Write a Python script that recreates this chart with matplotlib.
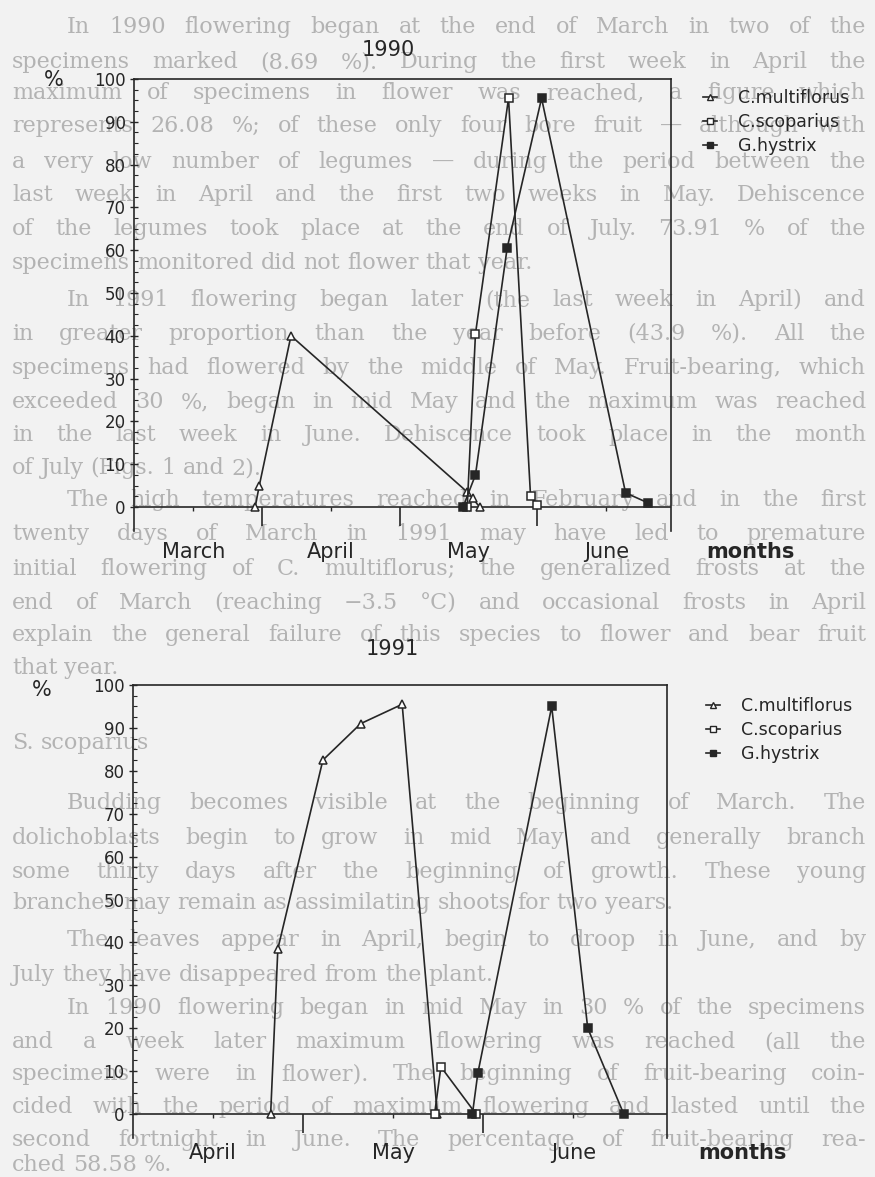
import numpy as np
import matplotlib
matplotlib.use('Agg')
import matplotlib.pyplot as plt
from matplotlib.lines import Line2D

W, H = 875, 1177
INK = '#262626'
PAPER = '#f2f2f2'
GHOST = '#b3b3b3'

# x positions are in months from the first day of the first month shown
months_1990 = ['March', 'April', 'May', 'June']
multi_x_1990 = [0.95, 0.98, 1.21, 2.49, 2.53, 2.58]
multi_y_1990 = [0, 5, 40, 3.5, 2, 0]
scop_x_1990 = [2.49, 2.55, 2.79, 2.95, 3.00]
scop_y_1990 = [0, 40.5, 95.5, 2.5, 0.5]
hyst_x_1990 = [2.46, 2.55, 2.78, 3.03, 3.64, 3.80]
hyst_y_1990 = [0, 7.5, 60.5, 95.5, 3.3, 1]

months_1991 = ['April', 'May', 'June']
multi_x_1991 = [0.82, 0.86, 1.11, 1.32, 1.55, 1.745]
multi_y_1991 = [0, 38.5, 82.5, 91, 95.5, 0]
scop_x_1991 = [1.73, 1.765, 1.96]
scop_y_1991 = [0, 11, 0]
hyst_x_1991 = [1.94, 1.97, 2.38, 2.58, 2.78]
hyst_y_1991 = [0, 9.5, 95, 20, 0]

species = ['C.multiflorus', 'C.scoparius', 'G.hystrix']
marker_style = {
    'C.multiflorus': dict(marker='^', mfc='white'),
    'C.scoparius': dict(marker='s', mfc='white'),
    'G.hystrix': dict(marker='s', mfc=INK),
}

# text printed on the other side of the sheet, showing through
ghost_lines = [
    (27, 'In 1990 flowering began at the end of March in two of the', True, True),
    (62, 'specimens marked (8.69 %). During the first week in April the', False, True),
    (93, 'maximum of specimens in flower was reached, a figure which', False, True),
    (126, 'represents 26.08 %; of these only four bore fruit \u2014 although with', False, True),
    (162, 'a very low number of legumes \u2014 during the period between the', False, True),
    (195, 'last week in April and the first two weeks in May. Dehiscence', False, True),
    (229, 'of the legumes took place at the end of July. 73.91 % of the', False, True),
    (263, 'specimens monitored did not flower that year.', False, False),
    (300, 'In 1991 flowering began later (the last week in April) and', True, True),
    (334, 'in greater proportion than the year before (43.9 %). All the', False, True),
    (368, 'specimens had flowered by the middle of May. Fruit-bearing, which', False, True),
    (402, 'exceeded 30 %, began in mid May and the maximum was reached', False, True),
    (435, 'in the last week in June. Dehiscence took place in the month', False, True),
    (468, 'of July (Figs. 1 and 2).', False, False),
    (500, 'The high temperatures reached in February and in the first', True, True),
    (534, 'twenty days of March in 1991 may have led to premature', False, True),
    (569, 'initial flowering of C. multiflorus; the generalized frosts at the', False, True),
    (603, 'end of March (reaching \u22123.5 \u00b0C) and occasional frosts in April', False, True),
    (635, 'explain the general failure of this species to flower and bear fruit', False, True),
    (668, 'that year.', False, False),
    (743, 'S. scoparius', False, False),
    (803, 'Budding becomes visible at the beginning of March. The', True, True),
    (838, 'dolichoblasts begin to grow in mid May and generally branch', False, True),
    (872, 'some thirty days after the beginning of growth. These young', False, True),
    (903, 'branches may remain as assimilating shoots for two years.', False, False),
    (940, 'The leaves appear in April, begin to droop in June, and by', True, True),
    (975, 'July they have disappeared from the plant.', False, False),
    (1008, 'In 1990 flowering began in mid May in 30 % of the specimens', True, True),
    (1042, 'and a week later maximum flowering was reached (all the', False, True),
    (1074, 'specimens were in flower). The beginning of fruit-bearing coin-', False, True),
    (1107, 'cided with the period of maximum flowering and lasted until the', False, True),
    (1140, 'second fortnight in June. The percentage of fruit-bearing rea-', False, True),
    (1165, 'ched 58.58 %.', False, False),
]


def px(x, y):
    return x / W, 1 - y / H


def draw_ghost_text(fig):
    renderer = fig.canvas.get_renderer()
    left, right = 12, 866
    for y, line, indent, justify in ghost_lines:
        words = line.split()
        objs = [fig.text(0, 1 - y / H, w, fontsize=16, family='DejaVu Serif',
                         color=GHOST, va='center', zorder=-5) for w in words]
        widths = [o.get_window_extent(renderer).width for o in objs]
        x = left + (55 if indent else 0)
        gap = 7.0
        if justify and len(words) > 1:
            gap = max(gap, (right - x - sum(widths)) / (len(words) - 1))
        for o, w in zip(objs, widths):
            o.set_x(x / W)
            x += w + gap


def draw_panel(fig, rect, xlim, months, month_y, months_word_x, data, legend_xy):
    ax = fig.add_axes(rect, facecolor='none')
    ax.set_xlim(*xlim)
    ax.set_ylim(-5.5, 100)
    for s in ['top', 'left', 'right']:
        ax.spines[s].set_color(INK)
        ax.spines[s].set_linewidth(1.2)
    ax.spines['bottom'].set_visible(False)
    ax.axhline(0, color=INK, lw=1.2, zorder=1)

    n = len(months)
    ax.vlines(np.arange(1, n), -4.5, 0, color=INK, lw=1.2)
    ax.vlines(np.arange(n) + 0.5, -1.0, 0, color=INK, lw=1.0)

    ax.set_xticks([])
    ax.set_yticks(np.arange(0, 101, 10))
    ax.set_yticks(np.arange(0, 100.1, 2.5), minor=True)
    ax.tick_params(axis='y', which='major', direction='inout', length=6,
                   width=1.0, color=INK, labelsize=12, labelcolor=INK, pad=3)
    ax.tick_params(axis='y', which='minor', direction='in', length=3,
                   width=0.8, color=INK)

    for i, m in enumerate(months):
        ax.text(i + 0.5, month_y, m, ha='center', va='center',
                fontsize=15, color=INK, clip_on=False)
    ax.text(months_word_x, month_y, 'months', ha='center', va='center',
            fontsize=15, fontweight='bold', color=INK, clip_on=False)

    for name, xs, ys in data:
        ax.plot(xs, ys, color=INK, lw=1.2, ms=6, mec=INK, mew=1.1,
                clip_on=False, zorder=3, **marker_style[name])

    handles = [Line2D([0], [0], color=INK, lw=1.2, ms=4.5, mec=INK,
                      **marker_style[name]) for name in species]
    ax.legend(handles, species, loc='upper left', bbox_to_anchor=px(*legend_xy),
              bbox_transform=fig.transFigure, frameon=False,
              prop={'size': 12.5}, handlelength=0.8, handletextpad=1.2,
              labelspacing=0.35, borderpad=0, borderaxespad=0, labelcolor=INK)
    return ax


fig = plt.figure(figsize=(W / 100, H / 100), dpi=100, facecolor=PAPER)
draw_ghost_text(fig)

draw_panel(fig, [134 / W, 1 - 530.5 / H, 537 / W, 451.5 / H], (0.07, 3.97),
           months_1990, -10.5, 4.55,
           [('C.multiflorus', multi_x_1990, multi_y_1990),
            ('C.scoparius', scop_x_1990, scop_y_1990),
            ('G.hystrix', hyst_x_1990, hyst_y_1990)],
           (703, 89))
fig.text(*px(388, 50), '1990', ha='center', va='center', fontsize=15, color=INK)
fig.text(*px(54, 80), '%', ha='center', va='center', fontsize=15, color=INK)

draw_panel(fig, [133 / W, 1 - 1137.6 / H, 534 / W, 452.6 / H], (0.056, 3.02),
           months_1991, -9.1, 3.44,
           [('C.multiflorus', multi_x_1991, multi_y_1991),
            ('C.scoparius', scop_x_1991, scop_y_1991),
            ('G.hystrix', hyst_x_1991, hyst_y_1991)],
           (706, 697))
fig.text(*px(392, 649), '1991', ha='center', va='center', fontsize=15, color=INK)
fig.text(*px(42, 690), '%', ha='center', va='center', fontsize=15, color=INK)

fig.savefig('out.png', dpi=100, facecolor=PAPER)
